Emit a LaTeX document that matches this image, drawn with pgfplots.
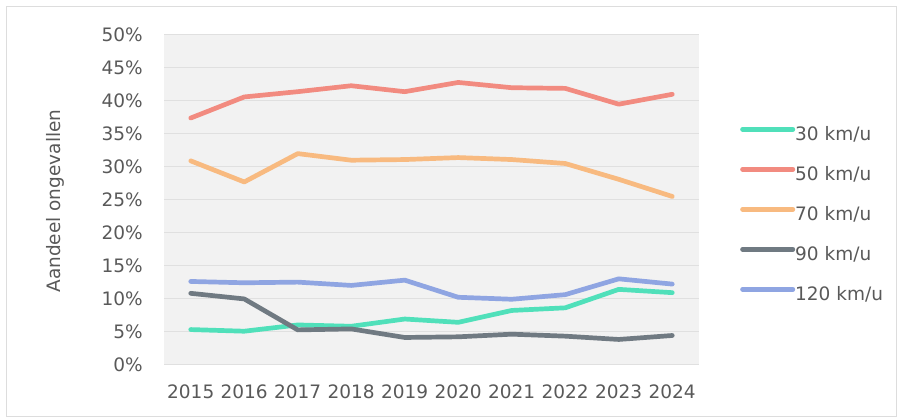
\documentclass[border=0pt]{standalone}
\usepackage{pgfplots}
\pgfplotsset{compat=1.18}
\usepackage{fontspec}
\setmainfont{DejaVu Sans}
\definecolor{c30}{HTML}{50E0BA}
\definecolor{c50}{HTML}{F28B80}
\definecolor{c70}{HTML}{F8BA80}
\definecolor{c90}{HTML}{707A82}
\definecolor{c120}{HTML}{8FA5E2}
\definecolor{txt}{HTML}{595959}
\definecolor{bg}{HTML}{F2F2F2}
\definecolor{gridc}{HTML}{E0E0E0}
\definecolor{frame}{HTML}{DDDDDD}
\begin{document}
\fontsize{18.5bp}{22bp}\selectfont
\begin{tikzpicture}
\useasboundingbox (0,0) rectangle (901bp,417bp);
\draw[frame, line width=1bp] (6.5bp,0.5bp) rectangle (896.5bp,410.5bp);
\begin{axis}[
  at={(164bp,52.5bp)}, anchor=south west,
  scale only axis, width=535bp, height=329.5bp,
  xmin=2014.5, xmax=2024.5, ymin=0, ymax=50,
  xtick={2015,...,2024},
  xticklabels={2015,2016,2017,2018,2019,2020,2021,2022,2023,2024},
  ytick={0,5,...,50},
  yticklabels={0\%,5\%,10\%,15\%,20\%,25\%,30\%,35\%,40\%,45\%,50\%},
  major tick length=0pt,
  axis line style={draw=none},
  axis background/.style={fill=bg},
  ymajorgrids, grid style={gridc, line width=1bp},
  tick label style={txt, font=\fontsize{18.5bp}{22bp}\selectfont},
  yticklabel style={inner sep=0pt, anchor=east, xshift=-21bp},
  xticklabel style={inner sep=0pt, anchor=north, yshift=-20.5bp},
  ylabel={Aandeel ongevallen},
  ylabel style={txt, font=\fontsize{18.5bp}{22bp}\selectfont, at={(axis description cs:-0.2037,0.496)}, anchor=center, inner sep=0pt},
  clip=false,
  every axis plot/.append style={line width=4.7bp, line cap=round, line join=round},
  legend style={draw=none, fill=none, at={(1.0766,0.722)}, anchor=north west, inner sep=0pt, row sep=22bp,
    nodes={inner sep=0pt, text height=14bp, text depth=4bp, txt, font=\fontsize{18.5bp}{22bp}\selectfont}},
  legend cell align=left,
  /tikz/every even column/.append style={column sep=4bp},
  legend image code/.code={\draw[#1, line width=4.7bp, line cap=round] (2.35bp,6.5bp) -- (52.65bp,6.5bp);},
]
\addplot[c30] coordinates {(2015,5.3) (2016,5.05) (2017,6.0) (2018,5.8) (2019,6.9) (2020,6.4) (2021,8.2) (2022,8.6) (2023,11.4) (2024,10.9)};
\addlegendentry{30 km/u}
\addplot[c50] coordinates {(2015,37.4) (2016,40.6) (2017,41.4) (2018,42.3) (2019,41.4) (2020,42.8) (2021,42.0) (2022,41.9) (2023,39.5) (2024,41.0)};
\addlegendentry{50 km/u}
\addplot[c70] coordinates {(2015,30.9) (2016,27.7) (2017,32.0) (2018,31.0) (2019,31.1) (2020,31.4) (2021,31.1) (2022,30.5) (2023,28.1) (2024,25.5)};
\addlegendentry{70 km/u}
\addplot[c90] coordinates {(2015,10.8) (2016,9.95) (2017,5.25) (2018,5.4) (2019,4.1) (2020,4.2) (2021,4.6) (2022,4.3) (2023,3.8) (2024,4.4)};
\addlegendentry{90 km/u}
\addplot[c120] coordinates {(2015,12.6) (2016,12.4) (2017,12.5) (2018,12.0) (2019,12.8) (2020,10.2) (2021,9.9) (2022,10.6) (2023,13.0) (2024,12.2)};
\addlegendentry{120 km/u}
\end{axis}
\end{tikzpicture}
\end{document}
